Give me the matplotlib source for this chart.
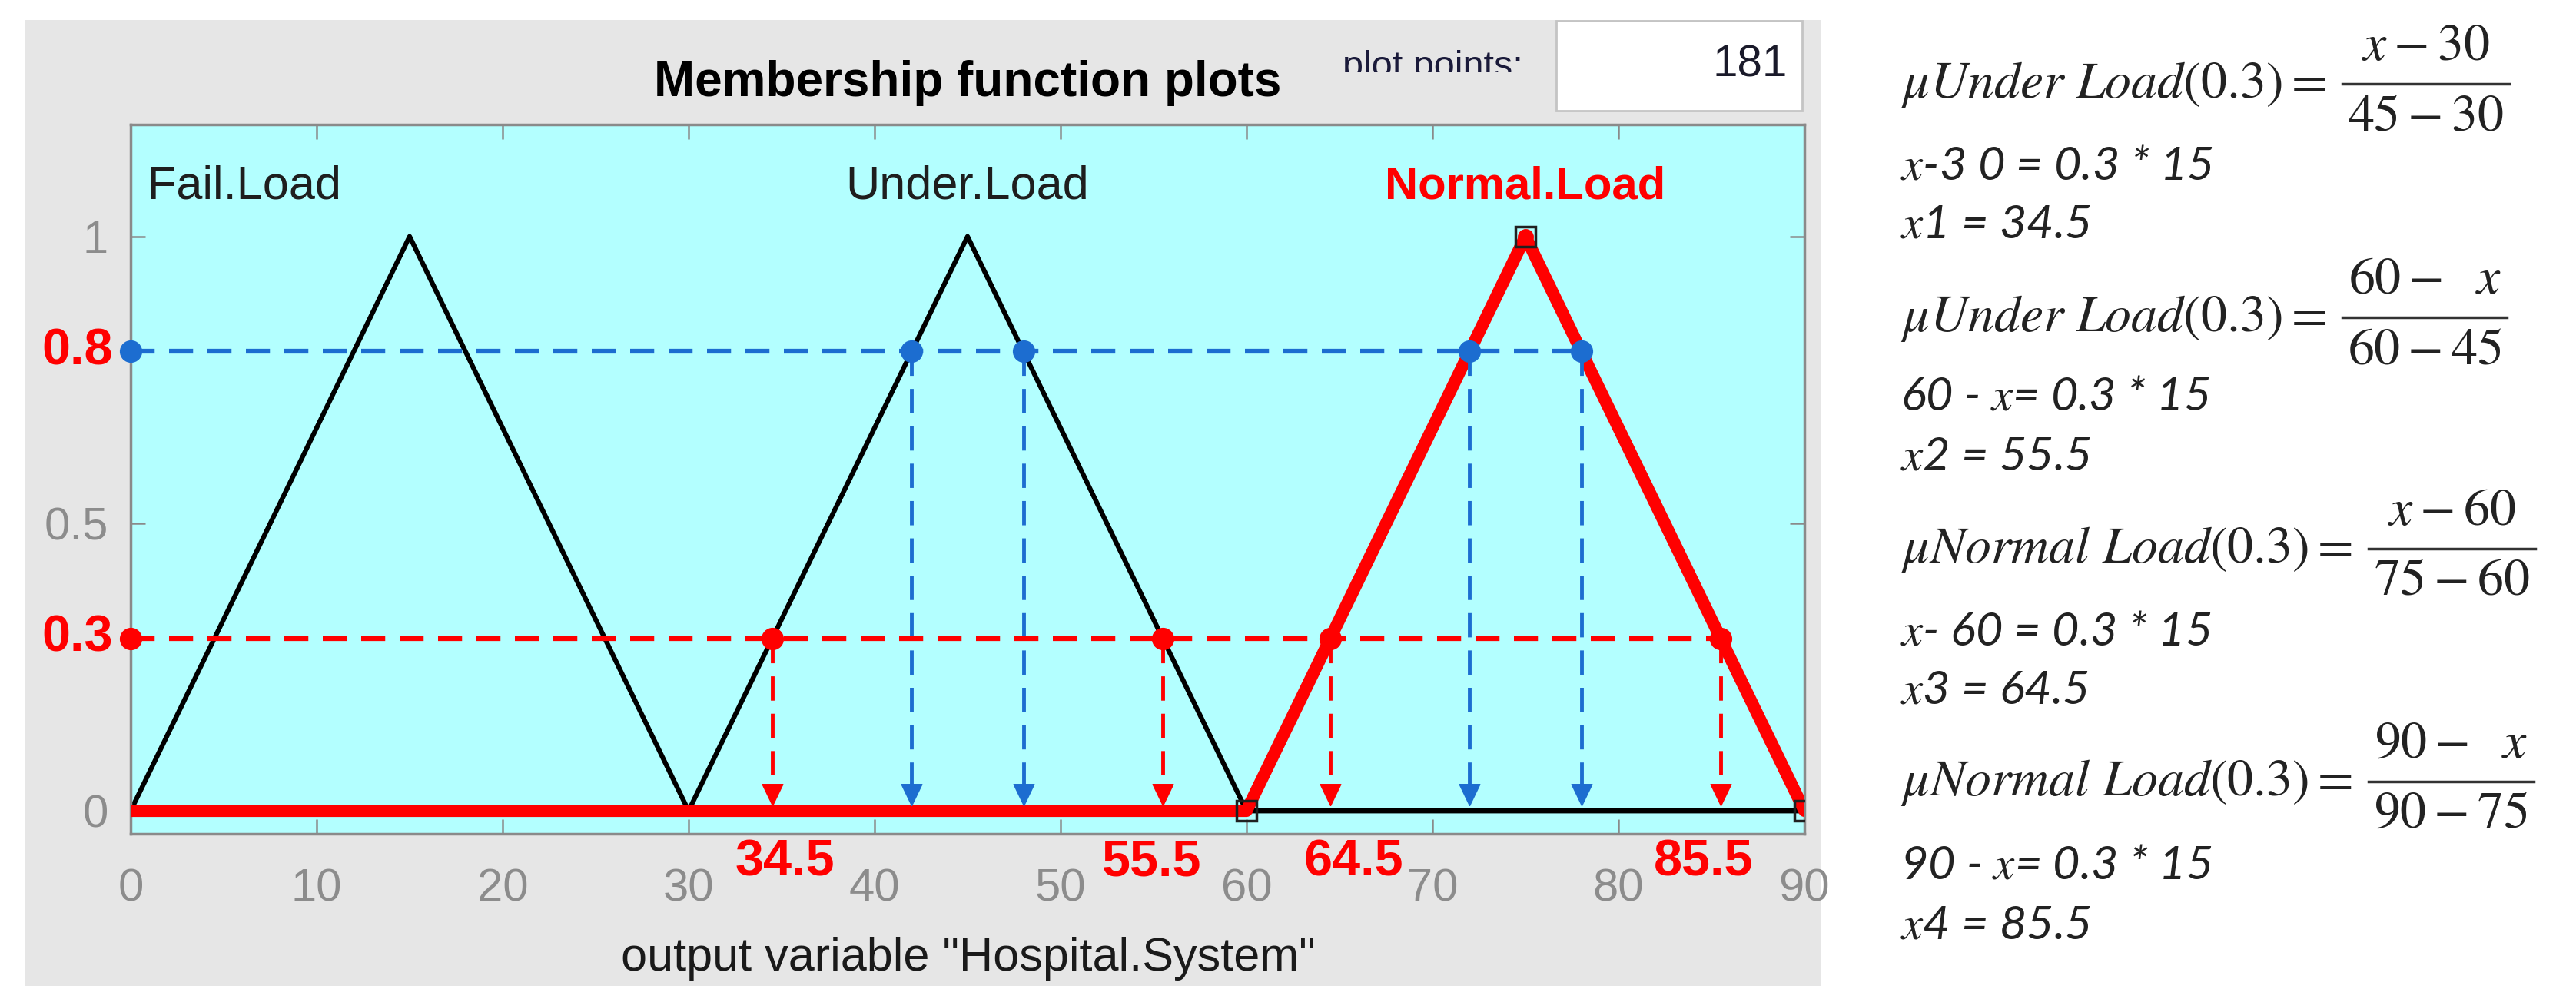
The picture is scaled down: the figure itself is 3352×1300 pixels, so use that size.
import matplotlib
matplotlib.use("Agg")
import matplotlib.pyplot as plt
from matplotlib.patches import Rectangle
from matplotlib.lines import Line2D
from matplotlib.transforms import Bbox, TransformedBbox

W, H = 3352, 1300

# output variable and its triangular membership functions
x_range = [0, 90]
mf_names = ["Fail.Load", "Under.Load", "Normal.Load"]
mf_params = [[0, 15, 30], [30, 45, 60], [60, 75, 90]]
selected = 2

# alpha cuts and the points where they cross the triangles
cut_levels = [0.8, 0.3]
cut_labels = ["0.8", "0.3"]
cut_points = [[42, 48, 72, 78], [34.5, 55.5, 64.5, 85.5]]
cut_colors = ["#1c6dd0", "#ff0000"]
x_cut_labels = ["34.5", "55.5", "64.5", "85.5"]

x_ticks = [0, 10, 20, 30, 40, 50, 60, 70, 80, 90]
y_ticks = [0, 0.5, 1]
y_ticklabels = ["0", "0.5", "1"]

# worked equations (one block per crossing point)
eq_lhs = [r"$\mu Under\ Load(0.3) =$", r"$\mu Under\ Load(0.3) =$",
          r"$\mu Normal\ Load(0.3) =$", r"$\mu Normal\ Load(0.3) =$"]
eq_num = [r"$x-30$", r"$60-\ \ x$", r"$x-60$", r"$90-\ \ x$"]
eq_den = [r"$45-30$", r"$60-45$", r"$75-60$", r"$90-75$"]
eq_step = [r"$x$-3 0 = 0.3 * 15", r"60 - $x$= 0.3 * 15",
           r"$x$- 60 = 0.3 * 15", r"90 - $x$= 0.3 * 15"]
eq_result = [r"$x$1 = 34.5", r"$x$2 = 55.5", r"$x$3 = 64.5", r"$x$4 = 85.5"]

plt.rcParams["font.family"] = ["Liberation Sans", "DejaVu Sans"]
plt.rcParams["mathtext.fontset"] = "stix"

fig = plt.figure(figsize=(W / 100, H / 100), dpi=100)

# grey matlab panel + plot points box
fig.add_artist(Rectangle((32 / W, 1 - 1283 / H), (2370 - 32) / W, (1283 - 26) / H,
                         transform=fig.transFigure, facecolor="#e6e6e6", edgecolor="none", zorder=0))
fig.add_artist(Rectangle((2025 / W, 1 - 144 / H), 320 / W, 117 / H, transform=fig.transFigure,
                         facecolor="white", edgecolor="#c4c4c4", lw=2, zorder=1))
fig.text(2326 / W, 1 - 85 / H, "181", ha="right", va="center", fontsize=42, color="#1a1a2a")
pp = fig.text(1747 / W, 1 - 100 / H, "plot points:", ha="left", va="baseline", fontsize=35,
              color="#1a1a3a")
pp.set_clip_box(TransformedBbox(Bbox([[0, 1 - 94 / H], [1, 1]]), fig.transFigure))

fig.text(1259 / W, 1 - 108 / H, "Membership function plots", ha="center", va="center",
         fontsize=46, fontweight="bold")
fig.text(1260 / W, 1 - 1247 / H, 'output variable "Hospital.System"', ha="center", va="center",
         fontsize=44, color="#1a1a1a")

ax = fig.add_axes([170 / W, 1 - 1085 / H, (2348 - 170) / W, (1085 - 162) / H])
ax.set_facecolor("#b3ffff")
ax.set_xlim(x_range)
ax.set_ylim(-0.04, 1.195)

for i, (a, b, c) in enumerate(mf_params):
    xs = [x_range[0], a, b, c, x_range[1]]
    ys = [0, 0, 1, 0, 0]
    if i == selected:
        ax.plot(xs, ys, color="#ff0000", lw=11.5, solid_joinstyle="round",
                solid_capstyle="round", zorder=3)
        ax.plot([a, b, c], [0, 1, 0], "s", ms=19, mfc="none", mec="#202020", mew=2.5, zorder=7)
        ax.plot([b], [1], "o", color="#ff0000", ms=14, zorder=6)
        ax.text(b, 1.087, mf_names[i], ha="center", va="center", fontsize=43,
                fontweight="bold", color="#ff0000")
    else:
        ax.plot(xs, ys, color="black", lw=4.5, zorder=2)
        if a == x_range[0]:
            ax.text(0.9, 1.087, mf_names[i], ha="left", va="center", fontsize=44, color="#1e1e1e")
        else:
            ax.text(b, 1.087, mf_names[i], ha="center", va="center", fontsize=44, color="#1e1e1e")

arrow = [(0, 0), (-0.48, 1), (0.48, 1), (0, 0)]
for lvl, pts, col in zip(cut_levels, cut_points, cut_colors):
    ax.plot([0, pts[-1]], [lvl, lvl], color=col, lw=4.5, dashes=(5, 3), zorder=4)
    for p in pts:
        ax.plot([p, p], [lvl, 0.045], color=col, lw=3.5, dashes=(6.5, 3.5), zorder=4)
    ax.plot([0] + pts, [lvl] * (len(pts) + 1), "o", color=col, ms=20, zorder=6, clip_on=False)
    ax.plot(pts, [0.01] * len(pts), marker=arrow, ls="none", color=col, ms=40, zorder=6)

for lvl, lab in zip(cut_levels, cut_labels):
    ax.annotate(lab, xy=(0, lvl), xytext=(-17, 0), textcoords="offset points", ha="right",
                va="center", color="#ff0000", fontsize=48, fontweight="bold",
                annotation_clip=False)

label_shift = [12, -10, 22, -16]
for p, lab, dx in zip(cut_points[1], x_cut_labels, label_shift):
    ax.annotate(lab, xy=(p, 0), xycoords=("data", "axes fraction"), xytext=(dx, -27),
                textcoords="offset points", ha="center", va="center", color="#ff0000",
                fontsize=48, fontweight="bold", annotation_clip=False)

ax.set_xticks(x_ticks)
ax.set_yticks(y_ticks)
ax.set_yticklabels(y_ticklabels)
ax.tick_params(direction="in", length=14, width=1.8, color="#8a8a8a", labelcolor="#8c8c8c",
               labelsize=43, top=True, right=True)
ax.tick_params(axis="x", pad=32)
ax.tick_params(axis="y", pad=21)
for s in ax.spines.values():
    s.set_color("#8a8a8a")
    s.set_linewidth(2.5)

# worked equations on the right, fractions built from pieces
renderer = fig.canvas.get_renderer()
bar_y = [109, 413, 714, 1017]
step_y = [216, 517, 822, 1127]
res_y = [293, 595, 899, 1204]
x0 = 2473
for k in range(4):
    lhs = fig.text(x0 / W, 1 - (bar_y[k] + 18) / H, eq_lhs[k], ha="left", va="baseline",
                   fontsize=49, color="#222222")
    lx1 = lhs.get_window_extent(renderer).x1
    num = fig.text(0, 1 - (bar_y[k] - 31) / H, eq_num[k], ha="center", va="baseline",
                   fontsize=49, color="#222222")
    den = fig.text(0, 1 - (bar_y[k] + 60) / H, eq_den[k], ha="center", va="baseline",
                   fontsize=49, color="#222222")
    wmax = max(num.get_window_extent(renderer).width, den.get_window_extent(renderer).width)
    bx0 = lx1 + 22
    bx1 = bx0 + wmax + 14
    xc = (bx0 + bx1) / 2 / W
    num.set_x(xc)
    den.set_x(xc)
    fig.add_artist(Line2D([bx0 / W, bx1 / W], [1 - bar_y[k] / H] * 2, transform=fig.transFigure,
                          color="#333333", lw=2.5))
    fig.text(x0 / W, 1 - step_y[k] / H, eq_step[k], ha="left", va="center", fontsize=44,
             family="Lato", style="italic", color="#222222")
    fig.text(x0 / W, 1 - res_y[k] / H, eq_result[k], ha="left", va="center", fontsize=44,
             family="Lato", style="italic", color="#222222")

fig.savefig("out.png", dpi=100)
